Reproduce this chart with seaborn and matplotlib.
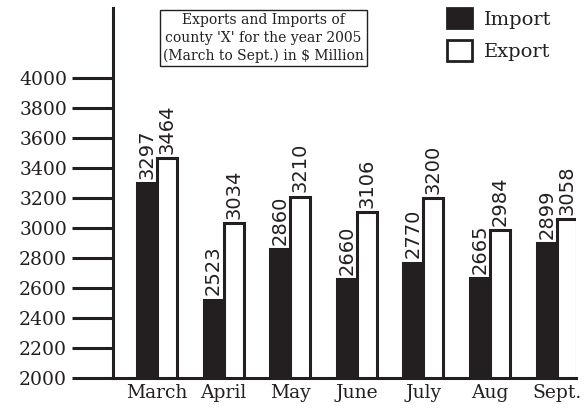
import pandas as pd
import matplotlib.pyplot as plt
import matplotlib.patches as mpatches
import seaborn as sns

sns.set_style("white")
plt.rcParams["font.family"] = ["DejaVu Serif"]

months = ["March", "April", "May", "June", "July", "Aug", "Sept."]
imports = [3297, 2523, 2860, 2660, 2770, 2665, 2899]
exports = [3464, 3034, 3210, 3106, 3200, 2984, 3058]
y_ticks = list(range(2000, 4001, 200))
title_lines = ["Exports and Imports of",
               "county 'X' for the year 2005",
               "(March to Sept.) in \\$ Million"]

df = pd.DataFrame({"month": months, "Import": imports, "Export": exports})
long_df = df.melt(id_vars="month", var_name="type", value_name="value")

ink = "#231f20"

fig = plt.figure(figsize=(5.86, 4.12), dpi=100)
ax = fig.add_axes([113 / 586, 1 - 378 / 412, (576 - 113) / 586, (378 - 8) / 412])

sns.barplot(
    data=long_df,
    x="month",
    y="value",
    hue="type",
    palette={"Import": ink, "Export": "white"},
    saturation=1,
    edgecolor=ink,
    linewidth=2.2,
    width=0.6,
    legend=False,
    ax=ax
)

# value labels above bars
for cont in ax.containers:
    ax.bar_label(cont, rotation=90, padding=3, fontsize=14,
                 fontfamily="DejaVu Sans", color=ink)

ax.set_xlim(-0.66, 6.29)
ax.set_ylim(2000, 4467)
ax.set_yticks(y_ticks)
ax.set_xlabel("")
ax.set_ylabel("")
ax.tick_params(axis="y", left=True, length=29.5, width=2.2, pad=3.6,
               labelsize=13.5, color=ink, labelcolor=ink)
ax.tick_params(axis="x", bottom=False, length=0, pad=4,
               labelsize=13.5, labelcolor=ink)
for side in ["top", "right"]:
    ax.spines[side].set_visible(False)
for side in ["left", "bottom"]:
    ax.spines[side].set_linewidth(2.2)
    ax.spines[side].set_color(ink)

# title box
fig.text(263.5 / 586, 1 - 38 / 412, "\n".join(title_lines),
         ha="center", va="center", fontsize=10, linespacing=1.32, color=ink,
         bbox=dict(boxstyle="square,pad=0.2", facecolor="white",
                   edgecolor=ink, linewidth=1))

# legend
handles = [
    mpatches.Patch(facecolor=ink, edgecolor=ink, linewidth=2, label="Import"),
    mpatches.Patch(facecolor="white", edgecolor=ink, linewidth=2, label="Export"),
]
fig.legend(handles=handles, loc="upper left",
           bbox_to_anchor=(447 / 586, 1 - 8 / 412), frameon=False,
           fontsize=14, handlelength=1.29, handleheight=1.24,
           handletextpad=0.62, labelspacing=0.6, borderpad=0,
           borderaxespad=0, labelcolor=ink)

fig.savefig("out.png", dpi=100)
